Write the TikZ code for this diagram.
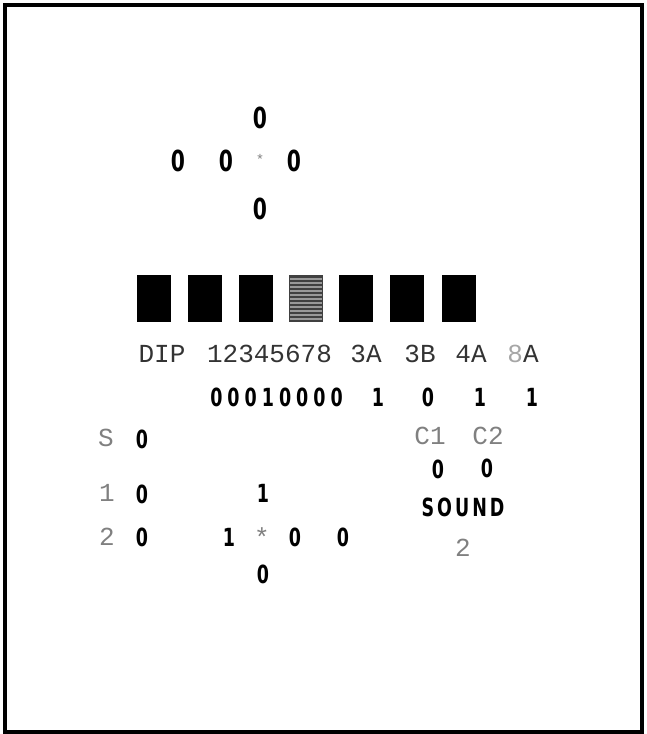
\documentclass[tikz,border=0pt]{standalone}
\usepackage{fontspec}
\newfontfamily\panelfont{Liberation Mono}
\newfontfamily\valfont[FakeStretch=0.7, UprightFont={* Bold}]{DejaVu Sans}
\usetikzlibrary{positioning}

\tikzset{
  lbl/.style={font=\panelfont\fontsize{26}{26}\selectfont, text=black!80, inner sep=0pt},
  faint/.style={lbl, text=black!50},
  val/.style={font=\valfont\fontsize{25}{25}\selectfont, inner sep=0pt},
  bigval/.style={font=\valfont\fontsize{29}{29}\selectfont, inner sep=0pt},
  dipkey/.style={fill=black, minimum width=34pt, minimum height=47pt, inner sep=0pt},
}

\begin{document}
\begin{tikzpicture}[x=1pt,y=-1pt]
  \useasboundingbox (0,0) rectangle (647,734);
  \draw[line width=4pt] (5,4.5) rectangle (642,732);

  % joystick 1
  \node[bigval] (joyN) at (260,118) {0};
  \node[bigval] (joyW) at (178,161) {0};
  \node[bigval] (joyF) at (226,161) {0};
  \node[faint, font=\panelfont\fontsize{14}{14}\selectfont] (joyC) at (260,159) {*};
  \node[bigval] (joyE) at (294,161) {0};
  \node[bigval] (joyS) at (260,209) {0};

  % dip switches
  \foreach \n/\x in {1/154,2/205,3/255.5,5/356,6/407,7/458.5}
    \node[dipkey] (key\n) at (\x,298.5) {};
  \node[dipkey, fill=black!75] (key4) at (306,298.5) {};
  \foreach \y in {279,283,...,319}
    \draw[white!60!black, line width=1.1pt] (290,\y) -- (322,\y);

  \node[lbl] (dip) at (162,354) {DIP};
  \node[lbl] (bits) at (269.5,354) {12345678};
  \node[lbl] (s3a) at (366,354) {3A};
  \node[lbl] (s3b) at (420,354) {3B};
  \node[lbl] (s4a) at (471,354) {4A};
  \node[lbl] (s8a) at (523,354) {\textcolor{black!35}{8}A};

  \node[val, font=\valfont\fontsize{25}{25}\selectfont\addfontfeature{LetterSpace=20}] (bitsval) at (276.5,397) {00010000};
  \node[val] (v3a) at (378,397) {1};
  \node[val] (v3b) at (428,397) {0};
  \node[val] (v4a) at (480,397) {1};
  \node[val] (v8a) at (532,397) {1};

  % buttons
  \node[faint] (btnS) at (106,438) {S};
  \node[val] (btnSval) at (142,439) {0};
  \node[faint] (btn1) at (107,493) {1};
  \node[val] (btn1val) at (142,494) {0};
  \node[faint] (btn2) at (107,537) {2};
  \node[val] (btn2val) at (142,537) {0};

  % joystick 2
  \node[val] (padN) at (263,493) {1};
  \node[val] (padW) at (229,537) {1};
  \node[faint] (padC) at (262,537) {*};
  \node[val] (padE) at (295,537) {0};
  \node[val] (padF) at (343,537) {0};
  \node[val] (padS) at (263,574) {0};

  % coins and sound
  \node[faint] (coin1) at (430,436) {C1};
  \node[faint] (coin2) at (488,436) {C2};
  \node[val] (coin1val) at (438,469) {0};
  \node[val] (coin2val) at (487,468) {0};
  \node[val, font=\valfont\fontsize{25}{25}\selectfont\addfontfeature{LetterSpace=12}] (sound) at (463,507) {SOUND};
  \node[faint] (soundval) at (463,548) {2};
\end{tikzpicture}
\end{document}
